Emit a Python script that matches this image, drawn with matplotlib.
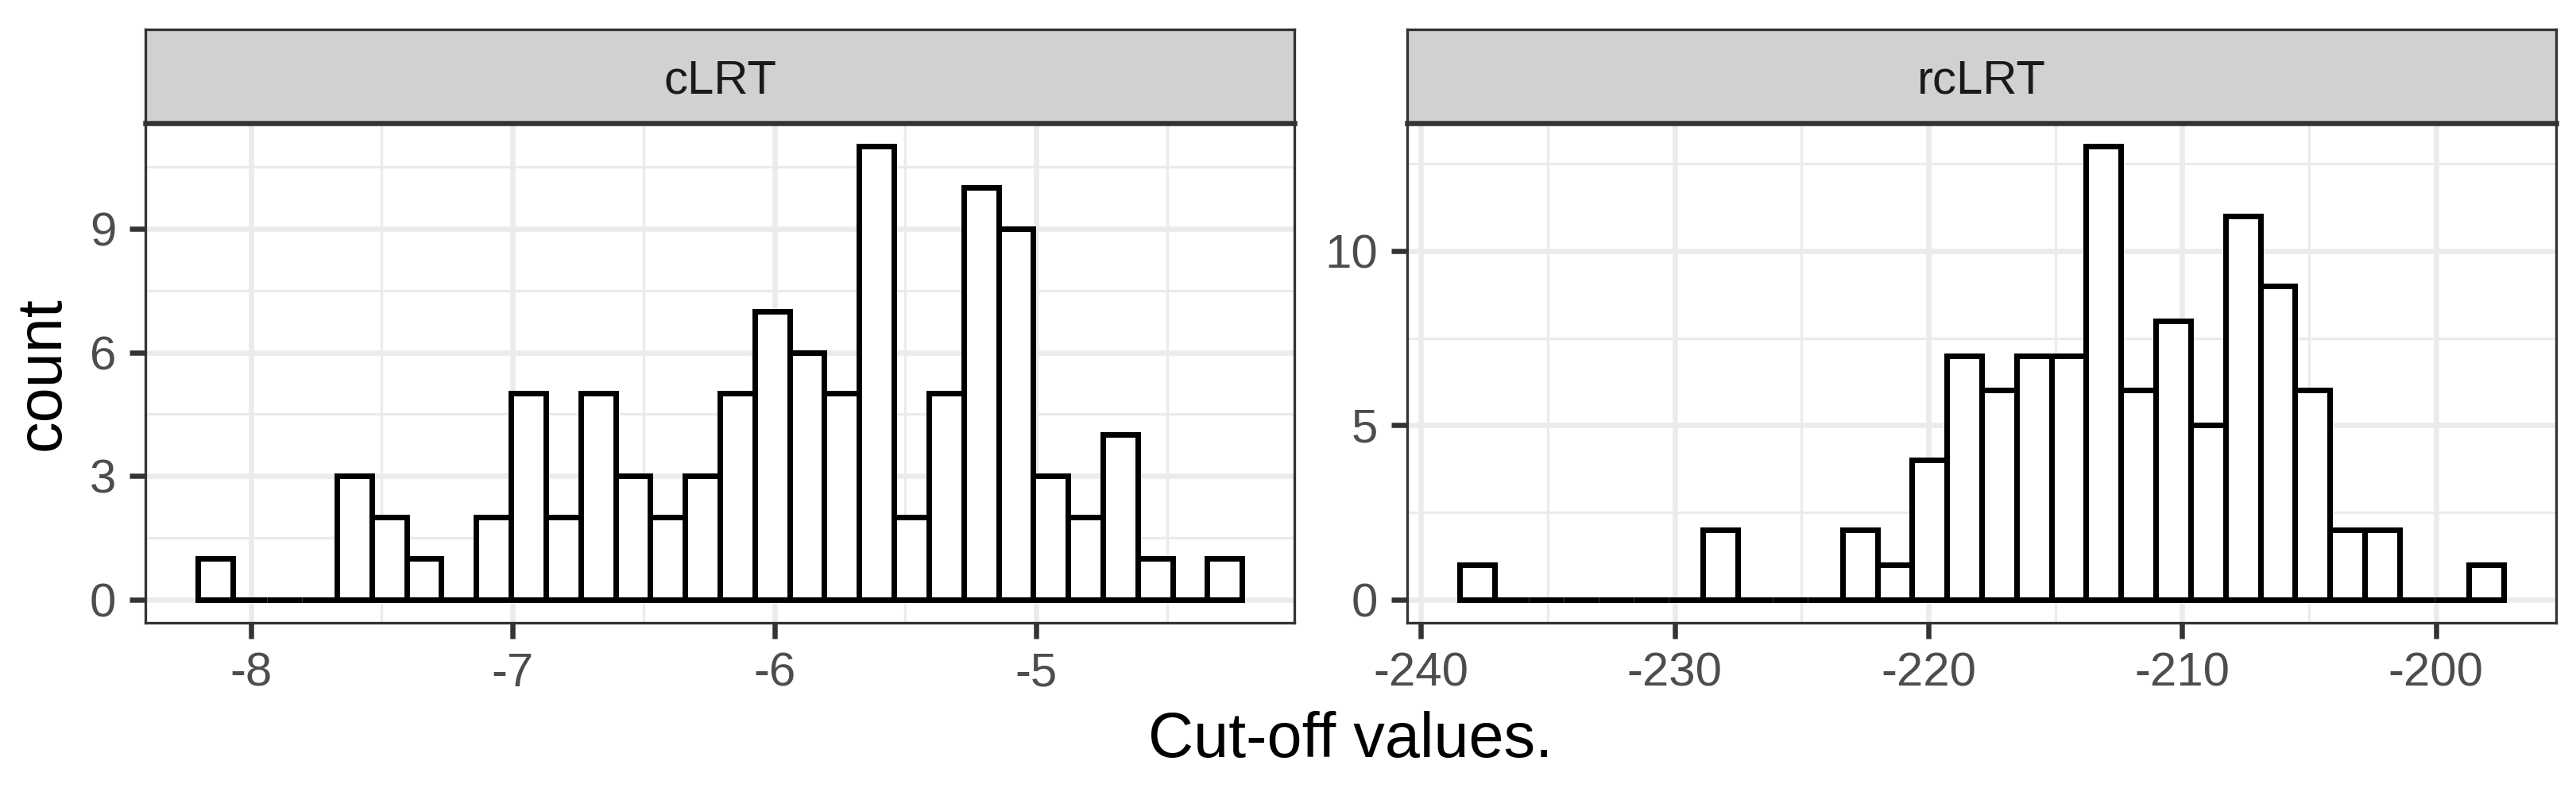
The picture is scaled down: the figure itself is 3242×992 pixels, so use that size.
import matplotlib
matplotlib.use("Agg")
import matplotlib.pyplot as plt  # type: ignore
import numpy as np  # type: ignore

# Contagens por classe (30 classes)
clrt_counts = [1, 0, 0, 0, 3, 2, 1, 0, 2, 5, 2, 5, 3, 2, 3,
               5, 7, 6, 5, 11, 2, 5, 10, 9, 3, 2, 4, 1, 0, 1]
rclrt_counts = [1, 0, 0, 0, 0, 0, 0, 2, 0, 0, 0, 2, 1, 4, 7,
                6, 7, 7, 13, 6, 8, 5, 11, 9, 6, 2, 2, 0, 0, 1]

# Início e largura das classes
clrt_start, clrt_width = -8.203, 0.1330
rclrt_start, rclrt_width = -238.48, 1.372

clrt_xticks = [-8, -7, -6, -5]
clrt_yticks = [0, 3, 6, 9]
rclrt_xticks = [-240, -230, -220, -210, -200]
rclrt_yticks = [0, 5, 10]

panels = [
    ("cLRT", clrt_counts, clrt_start, clrt_width, clrt_xticks, clrt_yticks, 183),
    ("rcLRT", rclrt_counts, rclrt_start, rclrt_width, rclrt_xticks, rclrt_yticks, 1771),
]

W, H = 3242, 992
DPI = 300
PX = 72 / DPI  # pontos por pixel

plt.rcParams["font.family"] = ["Liberation Sans", "DejaVu Sans"]

fig = plt.figure(figsize=(W / DPI, H / DPI), dpi=DPI)

panel_top, panel_bottom, strip_top = 155, 784, 37
panel_w = 1446

for nome, counts, start, width, xticks, yticks, x0 in panels:
    counts = np.asarray(counts)
    edges = start + width * np.arange(len(counts) + 1)

    ax = fig.add_axes([x0 / W, (H - panel_bottom) / H, panel_w / W,
                       (panel_bottom - panel_top) / H])
    ax.bar(edges[:-1], counts, width=width, align="edge", color="white",
           edgecolor="black", linewidth=7 * PX, zorder=3)

    span = edges[-1] - edges[0]
    xlim = (edges[0] - 0.05 * span, edges[-1] + 0.05 * span)
    ymax = counts.max()
    ylim = (-0.05 * ymax, 1.05 * ymax)

    ax.set_xticks(xticks)
    ax.set_xticklabels([str(t) for t in xticks])
    ax.set_yticks(yticks)
    step_x = xticks[1] - xticks[0]
    step_y = yticks[1] - yticks[0]
    mx = np.arange(xticks[0] - step_x / 2, xticks[-1] + step_x, step_x)
    my = np.arange(yticks[0] + step_y / 2, ylim[1], step_y)
    ax.set_xticks(mx[(mx > xlim[0]) & (mx < xlim[1])], minor=True)
    ax.set_yticks(my, minor=True)
    ax.set_xlim(*xlim)
    ax.set_ylim(*ylim)

    ax.set_axisbelow(True)
    ax.grid(which="major", color="#EBEBEB", linewidth=6.5 * PX, zorder=0)
    ax.grid(which="minor", color="#EBEBEB", linewidth=3.3 * PX, zorder=0)

    ax.tick_params(which="major", length=20 * PX, width=6.5 * PX, color="#333333",
                   labelsize=14.4, labelcolor="#4D4D4D", pad=4)
    ax.tick_params(which="minor", length=0)
    for s in ax.spines.values():
        s.set_color("#333333")
        s.set_linewidth(3.3 * PX)

    # Faixa do título do painel (strip)
    sax = fig.add_axes([x0 / W, (H - panel_top) / H, panel_w / W,
                        (panel_top - strip_top) / H])
    sax.set_facecolor("#D1D1D1")
    sax.set_xticks([])
    sax.set_yticks([])
    for s in sax.spines.values():
        s.set_color("#333333")
        s.set_linewidth(3.3 * PX)
    sax.spines["bottom"].set_linewidth(6.5 * PX)
    sax.text(0.5, 0.314, nome, transform=sax.transAxes, ha="center",
             va="baseline", fontsize=14.4, color="#1A1A1A")

fig.text(1700 / W, (H - 953) / H, "Cut-off values.", ha="center",
         va="baseline", fontsize=19)
fig.text(75 / W, (H - 470) / H, "count", rotation=90, rotation_mode="anchor",
         ha="center", va="baseline", fontsize=19)

fig.savefig("out.png", dpi=DPI, facecolor="white")
